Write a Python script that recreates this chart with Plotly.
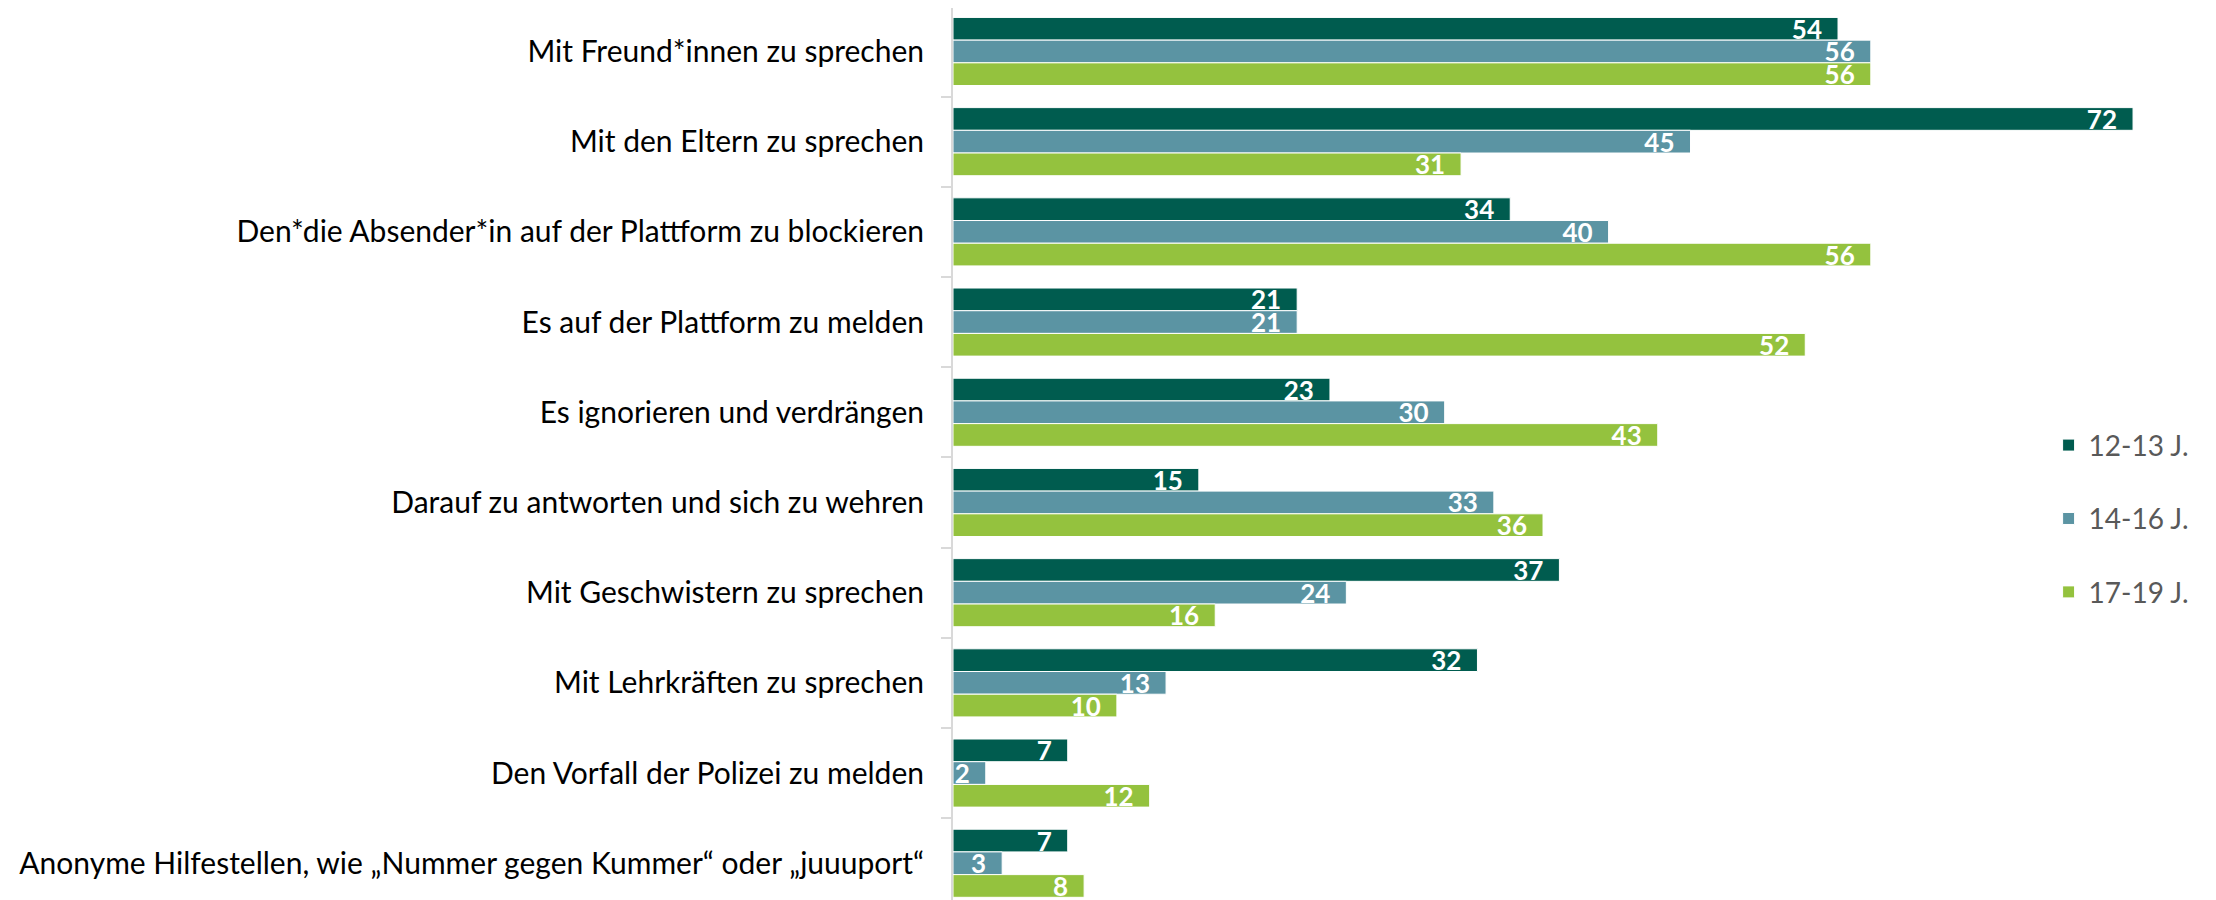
import plotly.graph_objects as go

categories = [
    "Mit Freund*innen zu sprechen",
    "Mit den Eltern zu sprechen",
    "Den*die Absender*in auf der Plattform zu blockieren",
    "Es auf der Plattform zu melden",
    "Es ignorieren und verdrängen",
    "Darauf zu antworten und sich zu wehren",
    "Mit Geschwistern zu sprechen",
    "Mit Lehrkräften zu sprechen",
    "Den Vorfall der Polizei zu melden",
    "Anonyme Hilfestellen, wie „Nummer gegen Kummer“ oder „juuuport“",
]
series_names = ["12-13 J.", "14-16 J.", "17-19 J."]
vals_12_13 = [54, 72, 34, 21, 23, 15, 37, 32, 7, 7]
vals_14_16 = [56, 45, 40, 21, 30, 33, 24, 13, 2, 3]
vals_17_19 = [56, 31, 56, 52, 43, 36, 16, 10, 12, 8]
colors = ["#005C4F", "#5B94A3", "#94C23E"]

fig = go.Figure()
for i, (name, vals) in enumerate(zip(series_names, [vals_12_13, vals_14_16, vals_17_19])):
    fig.add_trace(go.Bar(
        y=categories, x=vals, name=name, orientation="h",
        marker=dict(color=colors[i], line=dict(color="white", width=1)),
        texttemplate="<b>%{x}</b>\u2002", textposition="inside", textangle=0,
        insidetextanchor="end", constraintext="none",
        textfont=dict(family="Lato", size=26, color="white"),
        legendgroup=name,
    ))

fig.update_layout(
    width=2216, height=900,
    margin=dict(l=945, r=0, t=0, b=0),
    paper_bgcolor="white", plot_bgcolor="white",
    barmode="group", bargap=0.245, bargroupgap=0,
    font=dict(family="Lato", size=30, color="#000000"),
    xaxis=dict(range=[0, 77.55], showticklabels=False, showgrid=False,
               zeroline=False, showline=False, automargin=False),
    yaxis=dict(type="category", range=[9.496, -0.482], ticks="outside",
               tickson="boundaries", ticklen=10, tickwidth=2, tickcolor="#D9D9D9",
               showline=True, linecolor="#D9D9D9", linewidth=2, showgrid=False,
               automargin=False,
               ticklabelstandoff=21, tickfont=dict(family="Lato", size=30, color="#000000")),
    legend=dict(x=0.862, xanchor="left", y=0.5418, yanchor="top",
                traceorder="grouped", tracegroupgap=34,
                font=dict(family="Lato", size=28, color="#595959"),
                bgcolor="rgba(0,0,0,0)"),
)

fig.write_html("out.html")
